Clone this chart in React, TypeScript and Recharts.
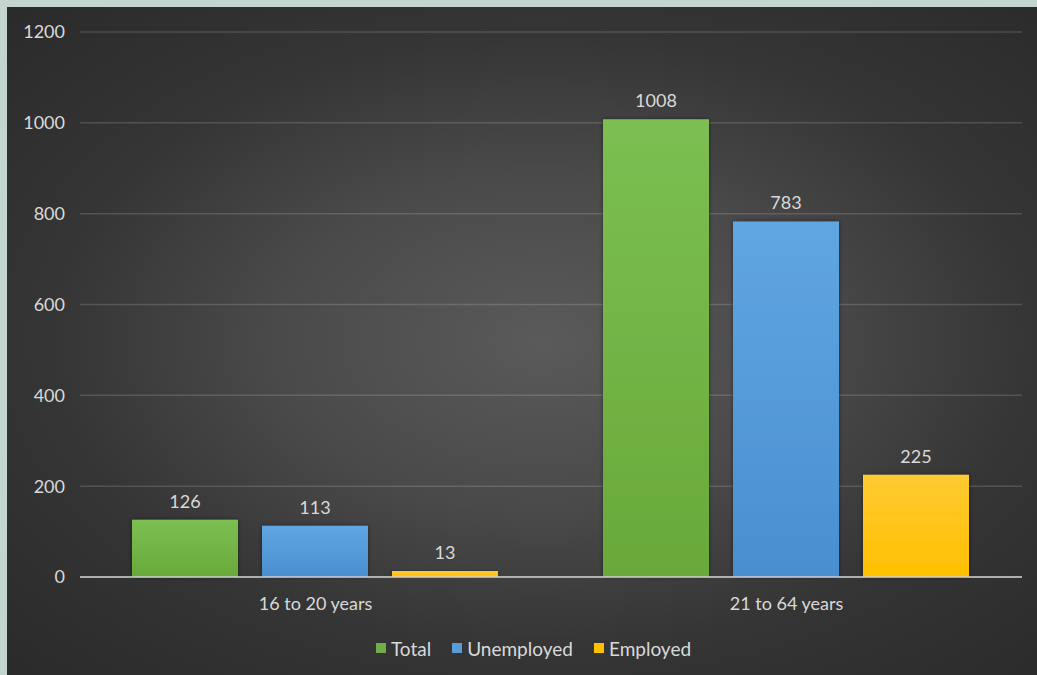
import React from 'react';
import { BarChart, Bar, XAxis, YAxis, CartesianGrid, Legend, LabelList } from 'recharts';

const categories = ['16 to 20 years', '21 to 64 years'];
const total = [126, 1008];
const unemployed = [113, 783];
const employed = [13, 225];
const yTicks = [0, 200, 400, 600, 800, 1000, 1200];

const data = categories.map((name, i) => ({
  name,
  Total: total[i],
  Unemployed: unemployed[i],
  Employed: employed[i],
}));

const FONT = 'Lato, "Open Sans", sans-serif';
const TEXT = '#d9d9d9';

const series = [
  { key: 'Total', fill: 'url(#gGreen)', swatch: '#70ad47' },
  { key: 'Unemployed', fill: 'url(#gBlue)', swatch: '#5b9bd5' },
  { key: 'Employed', fill: 'url(#gYellow)', swatch: '#ffc000' },
];

// legend drawn by hand so spacing matches the office-style look
const renderLegend = () => (
  <div style={{ display: 'flex', justifyContent: 'center', alignItems: 'center', height: 28, paddingLeft: 38, fontFamily: FONT, fontSize: 19, color: TEXT }}>
    {series.map((s, i) => (
      <div key={s.key} style={{ display: 'flex', alignItems: 'center', marginRight: i < series.length - 1 ? 21 : 0 }}>
        <span style={{ width: 10, height: 10, background: s.swatch, display: 'inline-block', marginRight: 5 }} />
        <span>{s.key}</span>
      </div>
    ))}
  </div>
);

export default function App() {
  return (
    <div style={{ position: 'fixed', left: 0, top: 0, width: 1037, height: 675, background: '#c3d5ce' }}>
      <div
        style={{
          position: 'absolute',
          left: 7,
          top: 7,
          width: 1030,
          height: 668,
          background: 'radial-gradient(ellipse at 52% 50%, #5a5a5a 0%, #4a4a4a 35%, #353535 65%, #2a2a2a 100%)',
        }}
      >
        <BarChart
          width={1030}
          height={668}
          data={data}
          margin={{ top: 25, right: 15, left: 0, bottom: 13 }}
          barCategoryGap={52}
          barGap={24}
        >
          <defs>
            <linearGradient id="gGreen" x1="0" y1="0" x2="0" y2="1">
              <stop offset="0%" stopColor="#7cbf52" />
              <stop offset="100%" stopColor="#69a93a" />
            </linearGradient>
            <linearGradient id="gBlue" x1="0" y1="0" x2="0" y2="1">
              <stop offset="0%" stopColor="#5fa6e2" />
              <stop offset="100%" stopColor="#4a8fd0" />
            </linearGradient>
            <linearGradient id="gYellow" x1="0" y1="0" x2="0" y2="1">
              <stop offset="0%" stopColor="#ffca33" />
              <stop offset="100%" stopColor="#ffc000" />
            </linearGradient>
            <filter id="barShadow" x="-10%" y="-10%" width="120%" height="120%">
              <feDropShadow dx="0" dy="0" stdDeviation="2" floodColor="#000" floodOpacity="0.45" />
            </filter>
          </defs>
          <CartesianGrid vertical={false} stroke="rgba(255,255,255,0.15)" strokeWidth={1.5} />
          <XAxis
            dataKey="name"
            height={57}
            tickSize={0}
            tickMargin={20}
            axisLine={{ stroke: '#d0d0d0', strokeWidth: 1.5 }}
            tick={{ fill: TEXT, fontSize: 18, fontFamily: FONT }}
          />
          <YAxis
            width={73}
            domain={[0, 1200]}
            ticks={yTicks}
            axisLine={false}
            tickLine={false}
            tickSize={0}
            tickMargin={15}
            tick={{ fill: TEXT, fontSize: 18, fontFamily: FONT }}
          />
          <Legend verticalAlign="bottom" content={renderLegend} />
          {series.map((s) => (
            <Bar key={s.key} dataKey={s.key} fill={s.fill} filter="url(#barShadow)" isAnimationActive={false}>
              <LabelList dataKey={s.key} position="top" offset={12} fill={TEXT} fontSize={18} fontFamily={FONT} />
            </Bar>
          ))}
        </BarChart>
      </div>
    </div>
  );
}
